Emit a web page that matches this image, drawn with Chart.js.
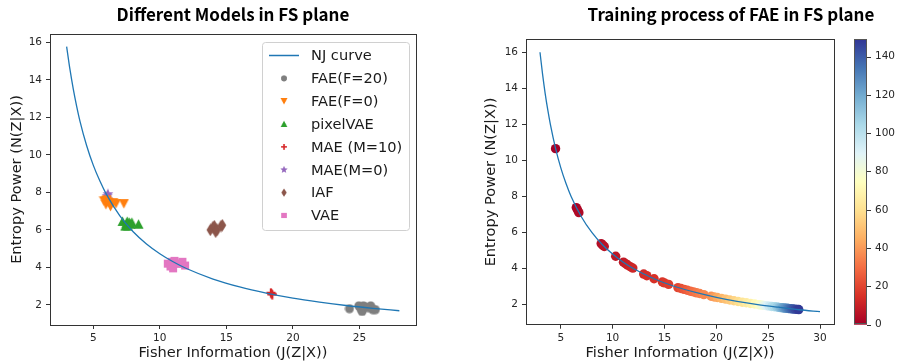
<!DOCTYPE html>
<html>
<head>
<meta charset="utf-8">
<script src="https://cdn.jsdelivr.net/npm/chart.js@4.4.0/dist/chart.umd.min.js"></script>
<style>
body{margin:0;background:#fff;width:898px;height:364px;position:relative;overflow:hidden}
canvas{position:absolute;top:0}
#left{left:0}
#right{left:450px}
</style>
</head>
<body>
<canvas id="left" width="450" height="364"></canvas>
<canvas id="right" width="448" height="364"></canvas>
<script>
// ---- data ----
var leftTitle = 'Different Models in FS plane';
var rightTitle = 'Training process of FAE in FS plane';
var xTitle = 'Fisher Information (J(Z|X))';
var yTitle = 'Entropy Power (N(Z|X))';

var leftXTicks = [5, 10, 15, 20, 25];
var rightXTicks = [5, 10, 15, 20, 25, 30];
var yTicks = [2, 4, 6, 8, 10, 12, 14, 16];
var cbTicks = [0, 20, 40, 60, 80, 100, 120, 140];

var labels = ['NJ curve', 'FAE(F=20)', 'FAE(F=0)', 'pixelVAE', 'MAE (M=10)', 'MAE(M=0)', 'IAF', 'VAE'];

var njJ = [3, 3.25, 3.5, 3.75, 4, 4.5, 5, 5.5, 6, 7, 8, 9, 10, 11, 12, 14, 16, 18, 20, 22, 24, 26, 28];
var njN = [15.77, 14.55, 13.5, 12.6, 11.8, 10.5, 9.45, 8.6, 7.88, 6.75, 5.9, 5.25, 4.73, 4.3, 3.94, 3.38, 2.96, 2.63, 2.36, 2.15, 1.97, 1.82, 1.69];

var fae20J = [24.25, 24.95, 25.1, 25.2, 25.3, 25.4, 25.65, 25.85, 26.0, 26.2];
var fae20N = [1.8, 1.95, 1.8, 1.65, 1.95, 1.9, 1.85, 1.95, 1.75, 1.75];
var fae0J = [5.8, 5.95, 6.0, 6.1, 6.3, 6.5, 6.7, 7.3];
var fae0N = [7.55, 7.35, 7.6, 7.5, 7.25, 7.45, 7.4, 7.4];
var pixJ = [7.2, 7.4, 7.5, 7.55, 7.6, 7.7, 7.8, 7.9, 8.4];
var pixN = [6.45, 6.2, 6.35, 6.45, 6.2, 6.4, 6.3, 6.4, 6.3];
var mae10J = [18.35, 18.4, 18.45];
var mae10N = [2.65, 2.6, 2.55];
var mae0J = [6.0, 6.05, 6.1, 6.15];
var mae0N = [7.7, 7.8, 7.9, 7.6];
var iafJ = [13.8, 14.0, 14.1, 14.2, 14.3, 14.6, 14.7];
var iafN = [6.0, 6.15, 6.2, 5.9, 6.0, 6.2, 6.25];
var vaeJ = [10.6, 10.8, 10.9, 11.0, 11.1, 11.3, 11.5, 11.7, 11.9];
var vaeN = [4.2, 4.05, 4.3, 3.95, 4.35, 4.2, 4.2, 4.3, 4.1];

var nj2J = [3, 3.25, 3.5, 3.75, 4, 4.5, 5, 5.5, 6, 7, 8, 9, 10, 11, 12, 14, 16, 18, 20, 22, 24, 26, 28, 30];
var nj2N = [16.0, 14.77, 13.71, 12.8, 12.0, 10.67, 9.6, 8.73, 8.0, 6.86, 6.0, 5.33, 4.8, 4.36, 4.0, 3.43, 3.0, 2.67, 2.4, 2.18, 2.0, 1.85, 1.71, 1.6];

var epochs = [0, 1, 2, 3, 4, 5, 6, 7, 8, 9, 10, 11, 12, 13, 14, 15, 16, 17, 18,
  20, 22, 24, 26, 28, 30, 32, 34, 36, 38, 41, 44, 47, 50, 53, 56, 59, 62, 65, 68, 72, 76,
  80, 85, 90, 95, 100, 104, 108, 112, 116, 120, 123, 126, 129, 132, 135, 138, 141, 144, 146, 148];
var trainJ = [4.5, 6.5, 6.62, 6.75, 8.9, 9.05, 9.2, 10.3, 11.05, 11.25, 11.45, 11.7, 11.95, 13.0, 13.3, 14.0, 14.8, 15.0, 15.4,
  16.3, 16.6, 16.9, 17.2, 17.5, 17.8, 18.1, 18.4, 18.8, 19.5, 19.8, 20.1, 20.5, 20.9, 21.3, 21.7, 22.1, 22.5, 22.9, 23.3, 23.7, 24.1,
  24.35, 24.6, 24.85, 25.1, 25.35, 25.6, 25.85, 26.05, 26.2, 26.35, 26.5, 26.65, 26.8, 26.95, 27.1, 27.25, 27.4, 27.6, 27.8, 27.95];
var trainN = [10.65, 7.38, 7.25, 7.1, 5.38, 5.3, 5.22, 4.68, 4.35, 4.27, 4.19, 4.1, 4.02, 3.69, 3.6, 3.43, 3.25, 3.2, 3.12,
  2.94, 2.89, 2.84, 2.79, 2.74, 2.7, 2.65, 2.61, 2.55, 2.46, 2.42, 2.39, 2.34, 2.3, 2.25, 2.21, 2.17, 2.13, 2.1, 2.06, 2.03, 1.99,
  1.97, 1.95, 1.93, 1.91, 1.89, 1.88, 1.86, 1.84, 1.83, 1.82, 1.81, 1.8, 1.79, 1.78, 1.77, 1.76, 1.75, 1.74, 1.73, 1.72];
var epochMax = 149;

// ---- helpers ----
Chart.defaults.font.family = 'DejaVu Sans';
Chart.defaults.color = '#262626';

function pts(xs, ys) { return xs.map(function (x, i) { return {x: x, y: ys[i]}; }); }

var rdylbu = ['#a50026', '#d73027', '#f46d43', '#fdae61', '#fee090', '#ffffbf', '#e0f3f8', '#abd9e9', '#74add1', '#4575b4', '#313695'];
function hex(c) { return [parseInt(c.substr(1, 2), 16), parseInt(c.substr(3, 2), 16), parseInt(c.substr(5, 2), 16)]; }
function cmap(t) {
  t = Math.max(0, Math.min(1, t)) * 10;
  var i = Math.min(9, Math.floor(t)), f = t - i;
  var a = hex(rdylbu[i]), b = hex(rdylbu[i + 1]);
  return 'rgb(' + [0, 1, 2].map(function (k) { return Math.round(a[k] + (b[k] - a[k]) * f); }).join(',') + ')';
}

function marker(kind, color, size) {
  var c = document.createElement('canvas');
  c.width = size; c.height = size;
  var g = c.getContext('2d'), h = size / 2;
  g.fillStyle = color; g.strokeStyle = color;
  g.beginPath();
  if (kind == 'circle') { g.arc(h, h, h - 0.5, 0, Math.PI * 2); g.fill(); }
  else if (kind == 'tridown') { g.moveTo(0.5, 1); g.lineTo(size - 0.5, 1); g.lineTo(h, size - 0.5); g.closePath(); g.fill(); }
  else if (kind == 'triup') { g.moveTo(0.5, size - 1); g.lineTo(size - 0.5, size - 1); g.lineTo(h, 0.5); g.closePath(); g.fill(); }
  else if (kind == 'square') { g.fillRect(1, 1, size - 2, size - 2); }
  else if (kind == 'plus') { g.lineWidth = 2.2; g.moveTo(h, 0.5); g.lineTo(h, size - 0.5); g.moveTo(0.5, h); g.lineTo(size - 0.5, h); g.stroke(); }
  else if (kind == 'star') {
    for (var k = 0; k < 10; k++) {
      var r = k % 2 ? h * 0.42 : h - 0.3, a = -Math.PI / 2 + k * Math.PI / 5;
      g.lineTo(h + r * Math.cos(a), h + r * Math.sin(a));
    }
    g.closePath(); g.fill();
  }
  else if (kind == 'thindiamond') { g.moveTo(h, 0.3); g.lineTo(h + size * 0.3, h); g.lineTo(h, size - 0.3); g.lineTo(h - size * 0.3, h); g.closePath(); g.fill(); }
  return c;
}

var mk = {
  fae20: marker('circle', '#7f7f7f', 10),
  fae0: marker('tridown', '#ff7f0e', 11),
  pix: marker('triup', '#2ca02c', 11),
  mae10: marker('plus', '#d62728', 10),
  mae0: marker('star', '#9467bd', 12),
  iaf: marker('thindiamond', '#8c564b', 13),
  vae: marker('square', '#e377c2', 10)
};

function xScale(ticksArr, min, max) {
  return {
    type: 'linear', min: min, max: max,
    afterBuildTicks: function (s) { s.ticks = ticksArr.map(function (v) { return {value: v}; }); },
    afterFit: function (s) { s.height = 39; },
    grid: {display: true, drawOnChartArea: false, drawTicks: true, tickLength: 4, color: '#333'},
    border: {display: true, color: '#333'},
    ticks: {padding: 3, color: '#262626', font: {size: 10.5}, maxRotation: 0, callback: function (v) { return String(v); }},
    title: {display: true, text: xTitle, font: {size: 14.6}, color: '#1a1a1a', padding: {top: 0, bottom: 2}}
  };
}
function yScale(min, max, width, titlePad) {
  return {
    type: 'linear', min: min, max: max,
    afterBuildTicks: function (s) { s.ticks = yTicks.map(function (v) { return {value: v}; }); },
    afterFit: function (s) { s.width = width; },
    grid: {display: true, drawOnChartArea: false, drawTicks: true, tickLength: 4, color: '#333'},
    border: {display: true, color: '#333'},
    ticks: {padding: 4, color: '#262626', font: {size: 10.5}, callback: function (v) { return String(v); }},
    title: {display: true, text: yTitle, font: {size: 14.6}, color: '#1a1a1a', padding: {top: titlePad, bottom: 0}}
  };
}

function frameAndTitle(text, cx) {
  return {
    id: 'frameTitle',
    afterDraw: function (chart) {
      var ctx = chart.ctx, a = chart.chartArea;
      ctx.save();
      ctx.strokeStyle = '#333'; ctx.lineWidth = 1;
      ctx.strokeRect(Math.round(a.left) + 0.5, Math.round(a.top) + 0.5, Math.round(a.right - a.left), Math.round(a.bottom - a.top));
      ctx.fillStyle = '#000';
      ctx.font = 'bold 17px "Noto Sans CJK SC", "Noto Sans", sans-serif';
      ctx.textAlign = 'center'; ctx.textBaseline = 'middle';
      ctx.fillText(text, cx, 15);
      ctx.restore();
    }
  };
}

var legendBox = {
  id: 'legendBox',
  afterDraw: function (chart) {
    var ctx = chart.ctx;
    ctx.save();
    ctx.beginPath();
    ctx.roundRect(262.5, 42.5, 147, 188, 3);
    ctx.fillStyle = 'rgba(255,255,255,0.8)'; ctx.fill();
    ctx.strokeStyle = '#d0d0d0'; ctx.lineWidth = 1; ctx.stroke();
    ctx.font = '14.6px "DejaVu Sans"'; ctx.textBaseline = 'middle'; ctx.textAlign = 'left';
    chart.data.datasets.forEach(function (ds, i) {
      var y = 55.5 + i * 22.85;
      if (ds.showLine) {
        ctx.strokeStyle = ds.borderColor; ctx.lineWidth = 1.5;
        ctx.beginPath(); ctx.moveTo(269, y); ctx.lineTo(299, y); ctx.stroke();
      } else {
        var im = ds.pointStyle, w = im.width * 0.68, h = im.height * 0.68;
        ctx.drawImage(im, 284 - w / 2, y - h / 2, w, h);
      }
      ctx.fillStyle = '#1a1a1a';
      ctx.fillText(ds.label, 311, y + 1);
    });
    ctx.restore();
  }
};

function scatterSet(label, xs, ys, img) {
  return {label: label, data: pts(xs, ys), pointStyle: img, pointRadius: 5, showLine: false};
}

new Chart(document.getElementById('left'), {
  type: 'scatter',
  data: {
    datasets: [
      {label: labels[0], data: pts(njJ, njN), showLine: true, borderColor: '#1f77b4', borderWidth: 1.3, pointRadius: 0, cubicInterpolationMode: 'monotone'},
      scatterSet(labels[1], fae20J, fae20N, mk.fae20),
      scatterSet(labels[2], fae0J, fae0N, mk.fae0),
      scatterSet(labels[3], pixJ, pixN, mk.pix),
      scatterSet(labels[4], mae10J, mae10N, mk.mae10),
      scatterSet(labels[5], mae0J, mae0N, mk.mae0),
      scatterSet(labels[6], iafJ, iafN, mk.iaf),
      scatterSet(labels[7], vaeJ, vaeN, mk.vae)
    ]
  },
  options: {
    responsive: false, animation: false, devicePixelRatio: 1,
    layout: {padding: {top: 34, right: 34, left: 0, bottom: 0}},
    plugins: {legend: {display: false}, tooltip: {enabled: false}},
    scales: {x: xScale(leftXTicks, 1.75, 29.25), y: yScale(0.93, 16.44, 50, 8.5)}
  },
  plugins: [frameAndTitle(leftTitle, 233), legendBox]
});

var colorBar = {
  id: 'colorBar',
  afterDraw: function (chart) {
    var ctx = chart.ctx, s = chart.scales.cb;
    var x0 = 404, w = 13, top = s.getPixelForValue(epochMax), bot = s.getPixelForValue(0);
    var grad = ctx.createLinearGradient(0, bot, 0, top);
    rdylbu.forEach(function (c, i) { grad.addColorStop(i / 10, c); });
    ctx.save();
    ctx.fillStyle = grad;
    ctx.fillRect(x0, top, w, bot - top);
    ctx.strokeStyle = '#555'; ctx.lineWidth = 1;
    ctx.strokeRect(x0 + 0.5, Math.round(top) + 0.5, w - 1, Math.round(bot - top) - 1);
    ctx.strokeStyle = '#333';
    cbTicks.forEach(function (v) {
      var y = Math.round(s.getPixelForValue(v)) + 0.5;
      ctx.beginPath(); ctx.moveTo(x0 + w, y); ctx.lineTo(x0 + w + 4, y); ctx.stroke();
    });
    ctx.restore();
  }
};

new Chart(document.getElementById('right'), {
  type: 'scatter',
  data: {
    datasets: [
      {label: 'NJ curve', data: pts(nj2J, nj2N), showLine: true, borderColor: '#1f77b4', borderWidth: 1.3, pointRadius: 0, cubicInterpolationMode: 'monotone'},
      {label: 'epoch', data: pts(trainJ, trainN), pointRadius: 4.7, borderWidth: 0,
       backgroundColor: epochs.map(function (e) { return cmap(e / epochMax); })}
    ]
  },
  options: {
    responsive: false, animation: false, devicePixelRatio: 1,
    layout: {padding: {top: 34, right: 0, left: 0, bottom: 0}},
    plugins: {legend: {display: false}, tooltip: {enabled: false}},
    scales: {
      x: xScale(rightXTicks, 1.65, 31.35),
      y: yScale(0.88, 16.72, 76, 32),
      cb: {
        type: 'linear', position: 'right', min: 0, max: epochMax,
        afterBuildTicks: function (s) { s.ticks = cbTicks.map(function (v) { return {value: v}; }); },
        afterFit: function (s) { s.width = 64; },
        grid: {display: false}, border: {display: false},
        ticks: {padding: 33, color: '#262626', font: {size: 10.5}, callback: function (v) { return String(v); }}
      }
    }
  },
  plugins: [frameAndTitle(rightTitle, 281), colorBar]
});
</script>
</body>
</html>
